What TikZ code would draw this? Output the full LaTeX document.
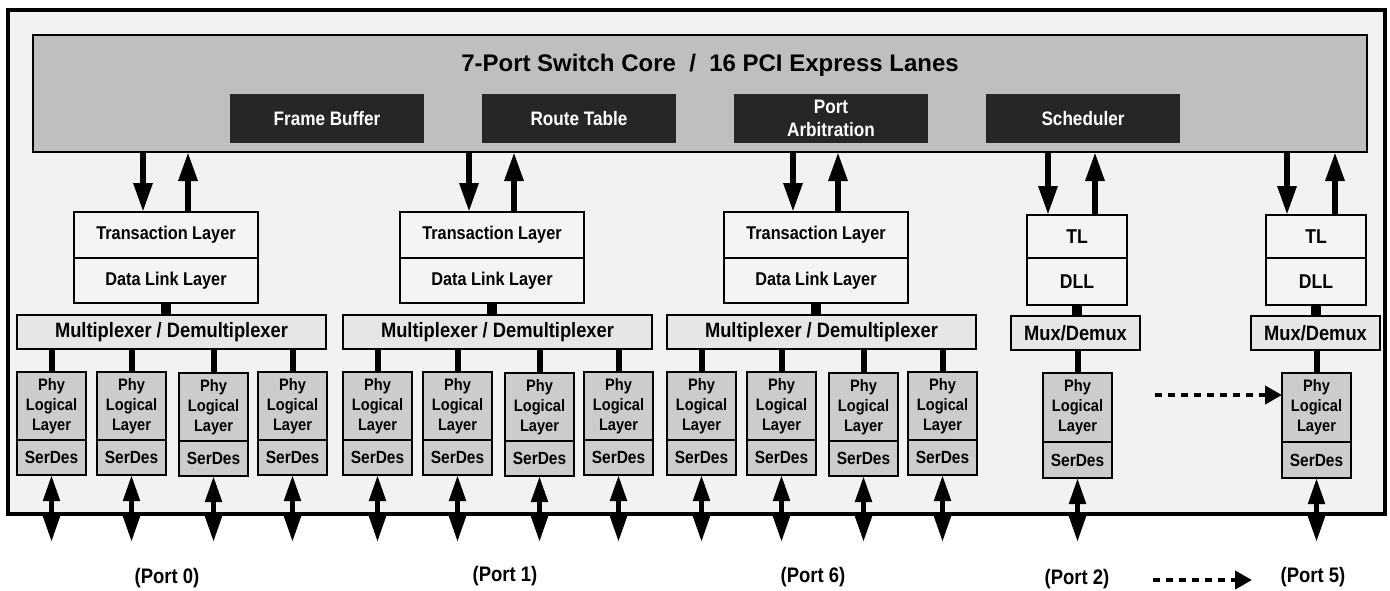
\documentclass[tikz,border=0pt]{standalone}
\usepackage{fontspec}
\setmainfont{Liberation Sans}
\newfontfamily\nar{Liberation Sans}[FakeStretch=0.88]
\usetikzlibrary{arrows.meta}
\definecolor{bgray}{HTML}{F2F2F2}
\definecolor{cgray}{HTML}{BFBFBF}
\definecolor{dgray}{HTML}{262626}
\definecolor{lgray}{HTML}{F4F4F4}
\definecolor{mgray}{HTML}{E6E6E6}
\definecolor{pgray}{HTML}{CCCCCC}
\tikzset{
  framebox/.style={draw, line width=3.5pt, fill=bgray, inner sep=0pt, outer sep=0pt},
  corebox/.style={draw, line width=2.5pt, fill=cgray, inner sep=0pt, outer sep=0pt},
  darkbox/.style={fill=dgray, text=white, align=center, inner sep=0pt, outer sep=0pt,
     font=\nar\bfseries\fontsize{19.5}{24}\selectfont},
  layerbox/.style={draw, line width=2pt, fill=lgray, inner sep=0pt, outer sep=0pt,
     font=\nar\bfseries\fontsize{18.5}{22}\selectfont},
  shortbox/.style={draw, line width=2pt, fill=lgray, inner sep=0pt, outer sep=0pt,
     font=\nar\bfseries\fontsize{20}{24}\selectfont},
  muxbox/.style={draw, line width=2pt, fill=mgray, inner sep=0pt, outer sep=0pt,
     font=\nar\bfseries\fontsize{20.8}{24}\selectfont},
  phybox/.style={draw, line width=2pt, fill=pgray, align=center, inner sep=0pt, outer sep=0pt,
     minimum width=69, minimum height=68, font=\nar\bfseries\fontsize{16.6}{20}\selectfont},
  serbox/.style={draw, line width=2pt, fill=pgray, inner sep=0pt, outer sep=0pt,
     minimum width=69, minimum height=35, font=\nar\bfseries\fontsize{17.6}{20}\selectfont},
  arr/.style={line width=6pt, -{Triangle[width=18pt,length=29pt]}},
  bidir/.style={line width=5pt, {Triangle[width=16pt,length=26pt]}-{Triangle[width=16pt,length=26pt]}},
  link/.style={line width=6pt},
  fatlink/.style={line width=10pt},
  dotarr/.style={line width=4pt, dash pattern=on 7pt off 6pt, -{Triangle[width=18pt,length=17pt]}},
  portlbl/.style={inner sep=0pt, font=\nar\bfseries\fontsize{21}{24}\selectfont},
  titlelbl/.style={inner sep=0pt, font=\bfseries\fontsize{24}{28}\selectfont},
}
% #1 id, #2 left x of mux
\newcommand\quadgroup[2]{%
  \pgfmathsetmacro\gx{#2}%
  \node[layerbox, minimum width=184, minimum height=46] (tl#1) at (\gx+149,235) {Transaction Layer};
  \node[layerbox, minimum width=184, minimum height=45] (dll#1) at (\gx+149,280.5) {Data Link Layer};
  \node[muxbox, minimum width=309, minimum height=34] (mux#1) at (\gx+154.5,332) {Multiplexer / Demultiplexer};
  \foreach \k/\o/\dy in {1/0/0,2/80/0,3/162/1,4/241/0}{
    \node[phybox] (phy#1\k) at (\gx+\o+34.5,406+\dy) {Phy\\Logical\\Layer};
    \node[serbox] (ser#1\k) at (\gx+\o+34.5,457.5+\dy) {SerDes};
    \draw[link] (phy#1\k.north) -- (phy#1\k.north |- mux#1.south);
    \draw[bidir] (ser#1\k.south) -- ++(0,67-\dy);
  }
  \draw[fatlink] (dll#1.south) -- (dll#1.south |- mux#1.north);
  \coordinate (d#1) at (\gx+126,0);
  \coordinate (u#1) at (\gx+171,0);
  \draw[arr] (d#1 |- core.south) -- (d#1 |- tl#1.north);
  \draw[arr] (u#1 |- tl#1.north) -- (u#1 |- core.south);
}
% #1 id, #2 TL left, #3 mux left, #4 phy left, #5 down arrow x, #6 up arrow x
\newcommand\singlegroup[6]{%
  \node[shortbox, minimum width=100, minimum height=43] (tl#1) at (#2+50,236.5) {TL};
  \node[shortbox, minimum width=100, minimum height=47] (dll#1) at (#2+50,281.5) {DLL};
  \node[muxbox, minimum width=129, minimum height=34] (mux#1) at (#3+64.5,333) {Mux/Demux};
  \node[phybox, minimum height=69] (phy#1) at (#4+34.5,407.5) {Phy\\Logical\\Layer};
  \node[serbox, minimum height=36] (ser#1) at (#4+34.5,460) {SerDes};
  \draw[fatlink] (dll#1.south) -- (dll#1.south |- mux#1.north);
  \draw[link] (phy#1.north) -- (phy#1.north |- mux#1.south);
  \draw[bidir] (ser#1.south) -- ++(0,64);
  \coordinate (d#1) at (#5,0);
  \coordinate (u#1) at (#6,0);
  \draw[arr] (d#1 |- core.south) -- (d#1 |- tl#1.north);
  \draw[arr] (u#1 |- tl#1.north) -- (u#1 |- core.south);
}
\begin{document}
\begin{tikzpicture}[x=1pt,y=-1pt]
\useasboundingbox (0,0) rectangle (1390,590);
\fill[white] (0,0) rectangle (1390,590);
\node[framebox, minimum width=1377, minimum height=504] (frame) at (696.5,262) {};
\node[corebox, minimum width=1334, minimum height=117] (core) at (700,93.5) {};
\node[titlelbl] (title) at (710,65) {7-Port Switch Core \ / \ 16 PCI Express Lanes};
\node[darkbox, minimum width=194, minimum height=49] (fb) at (327,118.5) {\raisebox{-3pt}{Frame Buffer}};
\node[darkbox, minimum width=194, minimum height=49] (rt) at (579,118.5) {\raisebox{-3pt}{Route Table}};
\node[darkbox, minimum width=194, minimum height=49, font=\nar\bfseries\fontsize{19.5}{23.5}\selectfont] (pa) at (831,118.5) {Port\\Arbitration};
\node[darkbox, minimum width=194, minimum height=49] (sch) at (1083,118.5) {\raisebox{-3pt}{Scheduler}};
\quadgroup{0}{17}
\quadgroup{1}{343}
\quadgroup{6}{667}
\singlegroup{2}{1027}{1011}{1043}{1048}{1095}
\singlegroup{5}{1266}{1251}{1282}{1287}{1335}
\node[portlbl] (p0) at (167,578) {(Port 0)};
\node[portlbl] (p1) at (505,576) {(Port 1)};
\node[portlbl] (p6) at (813,577) {(Port 6)};
\node[portlbl] (p2) at (1077,579) {(Port 2)};
\node[portlbl] (p5) at (1313,577) {(Port 5)};
\coordinate (dots1) at (1155,395);
\draw[dotarr] (dots1) -- (dots1 -| phy5.west);
\coordinate (dots2) at (1153,580);
\coordinate (dots2e) at (1252,580);
\draw[dotarr] (dots2) -- (dots2e);
\end{tikzpicture}
\end{document}
